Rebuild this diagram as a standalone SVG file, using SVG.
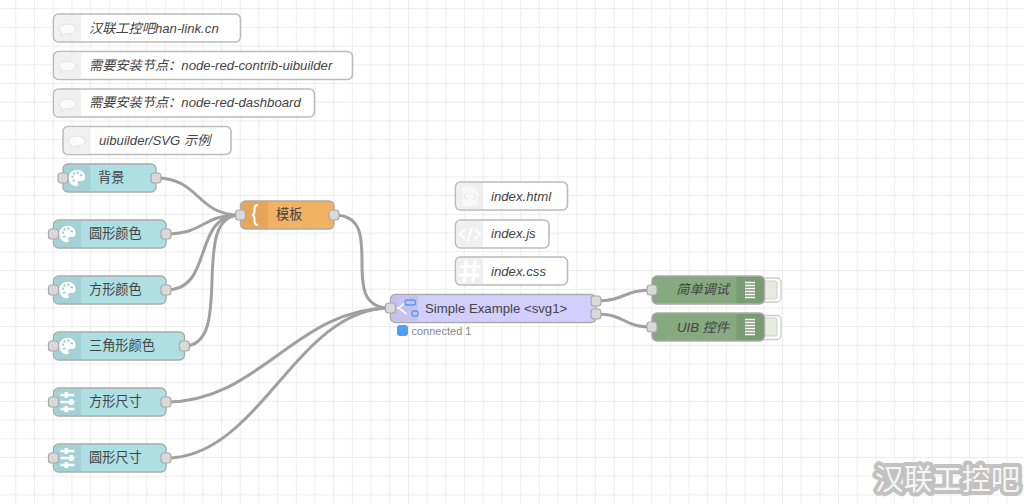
<svg xmlns="http://www.w3.org/2000/svg" width="1024" height="504" viewBox="0 0 1024 504">
<style>
text{font-family:"Liberation Sans","Noto Sans CJK SC",sans-serif;font-size:13.2px;fill:#444}
.it{font-style:italic}
.box{stroke:#aaa;stroke-width:1.4}
.c{fill:#fff;stroke:#bbb;stroke-width:1.6}
.cs{fill:#f0f0f0}
.tn{fill:#addfe3}
.ti{fill:#a3d1d5}
.p{fill:#d9d9d9;stroke:#aaa;stroke-width:1.2}
.w{fill:none;stroke:#a0a0a0;stroke-width:3}
.ic{fill:#fff;stroke:none}
.icl{fill:none;stroke:#fff;stroke-width:2.400}
</style>
<defs>
<pattern id="g" width="18.7" height="18.7" patternUnits="userSpaceOnUse" x="15.3" y="8.2">
<path d="M0 0H18.7M0 0V18.7" fill="none" stroke="#e6e6e6" stroke-width="1.300"/>
</pattern>
<symbol id="bubble" overflow="visible"><g transform="scale(.82)"><path d="M0-6c-6 0-10 2.800-10 6 0 2 1.500 3.600 3.500 4.600-.5 1.600-1.500 2.700-2.500 3.400 2.500 0 4.800-1.200 6.300-2.300.9.200 1.800.3 2.700.3 6 0 10-2.800 10-6s-4-6-10-6z" fill="#fbfbfb" stroke="#e0e0e0" stroke-width="1.200"/></g></symbol>
<symbol id="palette" overflow="visible"><g transform="scale(.82)"><path d="M0-10C-6-10-10-5.500-10 0c0 5.800 4.500 10 9 10 2.500 0 3-1.800 2-3.200C0 5 1.500 3.500 3.500 3.500H6c2.500 0 4-2 4-4.500C10-6 5.500-10 0-10z" class="ic"/><g fill="#a3d1d5"><circle cx="-5.500" cy="-1.500" r="1.500"/><circle cx="-3.500" cy="-5.500" r="1.500"/><circle cx="1" cy="-6.500" r="1.500"/><circle cx="5" cy="-3.500" r="1.500"/><circle cx="-4" cy="3" r="1.500"/></g></g></symbol>
<symbol id="slider" overflow="visible"><path d="M-7-7H7M-7 0H7M-7 7H7" class="icl"/><rect x="-3" y="-10" width="3.500" height="6" class="ic"/><rect x="2" y="-3" width="3.500" height="6" class="ic"/><rect x="-3" y="4" width="3.500" height="6" class="ic"/></symbol>
</defs>
<rect width="1024" height="504" fill="#fff"/>
<rect width="1024" height="504" fill="url(#g)"/>

<g id="connectors">
<path class="w" d="M156 178C200 178 196 215 240 215"/>
<path class="w" d="M166 234C205 234 201 215 240 215"/>
<path class="w" d="M166 290C215 290 191 215 240 215"/>
<path class="w" d="M184 346C236 346 188 215 240 215"/>
<path class="w" d="M334 215C390 215 334 308 390 308"/>
<path class="w" d="M166 402C260 402 296 308 390 308"/>
<path class="w" d="M166 458C260 458 296 308 390 308"/>
<path class="w" d="M596 301C626 301 622 290 652 290"/>
<path class="w" d="M596 314C626 314 622 327 652 327"/>
</g>

<g id="comment1"><rect class="c" x="53.500" y="14" width="187" height="28" rx="5"/><path class="cs" d="M54.500 20a5 5 0 0 1 5-5H81V41H59.500a5 5 0 0 1-5-5z"/><use href="#bubble" x="67.500" y="29"/><text class="it" x="89" y="33">汉联工控吧han-link.cn</text></g>
<g id="comment2"><rect class="c" x="53.500" y="51.500" width="299" height="28" rx="5"/><path class="cs" d="M54.500 57.500a5 5 0 0 1 5-5H81V78.500H59.500a5 5 0 0 1-5-5z"/><use href="#bubble" x="67.500" y="66"/><text class="it" x="89" y="70">需要安装节点：node-red-contrib-uibuilder</text></g>
<g id="comment3"><rect class="c" x="53.500" y="89" width="261" height="28" rx="5"/><path class="cs" d="M54.500 95a5 5 0 0 1 5-5H81V116H59.500a5 5 0 0 1-5-5z"/><use href="#bubble" x="67.500" y="104"/><text class="it" x="89" y="107">需要安装节点：node-red-dashboard</text></g>
<g id="comment4"><rect class="c" x="63" y="126.500" width="168" height="28" rx="5"/><path class="cs" d="M64 132.500a5 5 0 0 1 5-5H90.500V153.500H69a5 5 0 0 1-5-5z"/><use href="#bubble" x="77" y="141"/><text class="it" x="99" y="145">uibuilder/SVG 示例</text></g>

<g id="n-bg"><rect class="tn box" x="63" y="164" width="93" height="28" rx="5"/><path class="ti" d="M64 169a4 4 0 0 1 4-4H90.500V191H68a4 4 0 0 1-4-4z"/><use href="#palette" x="77" y="178"/><rect class="p" x="58" y="173" width="10" height="10" rx="3"/><rect class="p" x="151" y="173" width="10" height="10" rx="3"/><text x="98" y="182">背景</text></g>
<g id="n-circle"><rect class="tn box" x="53.500" y="220" width="112.500" height="28" rx="5"/><path class="ti" d="M54.500 225a4 4 0 0 1 4-4H81V247H58.500a4 4 0 0 1-4-4z"/><use href="#palette" x="67.500" y="234"/><rect class="p" x="48.500" y="229" width="10" height="10" rx="3"/><rect class="p" x="161" y="229" width="10" height="10" rx="3"/><text x="89" y="238">圆形颜色</text></g>
<g id="n-square"><rect class="tn box" x="53.500" y="276" width="112.500" height="28" rx="5"/><path class="ti" d="M54.500 281a4 4 0 0 1 4-4H81V303H58.500a4 4 0 0 1-4-4z"/><use href="#palette" x="67.500" y="290"/><rect class="p" x="48.500" y="285" width="10" height="10" rx="3"/><rect class="p" x="161" y="285" width="10" height="10" rx="3"/><text x="89" y="294">方形颜色</text></g>
<g id="n-triangle"><rect class="tn box" x="53.500" y="332" width="131" height="28" rx="5"/><path class="ti" d="M54.500 337a4 4 0 0 1 4-4H81V359H58.500a4 4 0 0 1-4-4z"/><use href="#palette" x="67.500" y="346"/><rect class="p" x="48.500" y="341" width="10" height="10" rx="3"/><rect class="p" x="179.500" y="341" width="10" height="10" rx="3"/><text x="89" y="350">三角形颜色</text></g>
<g id="n-sqsize"><rect class="tn box" x="53.500" y="388" width="112.500" height="28" rx="5"/><path class="ti" d="M54.500 393a4 4 0 0 1 4-4H81V415H58.500a4 4 0 0 1-4-4z"/><use href="#slider" x="67.500" y="402"/><rect class="p" x="48.500" y="397" width="10" height="10" rx="3"/><rect class="p" x="161" y="397" width="10" height="10" rx="3"/><text x="89" y="406">方形尺寸</text></g>
<g id="n-cirsize"><rect class="tn box" x="53.500" y="444" width="112.500" height="28" rx="5"/><path class="ti" d="M54.500 449a4 4 0 0 1 4-4H81V471H58.500a4 4 0 0 1-4-4z"/><use href="#slider" x="67.500" y="458"/><rect class="p" x="48.500" y="453" width="10" height="10" rx="3"/><rect class="p" x="161" y="453" width="10" height="10" rx="3"/><text x="89" y="462">圆形尺寸</text></g>

<g id="n-template"><rect class="box" fill="#f2b264" x="240.500" y="201" width="93.500" height="28" rx="5"/><path fill="#e5a65c" d="M241.500 206a4 4 0 0 1 4-4H268V228H245.500a4 4 0 0 1-4-4z"/><path d="M258 205c-3 0-3.500 1.500-3.500 3.500v3c0 2-.5 3-2.500 3.500 2 .5 2.500 1.500 2.500 3.500v3c0 2 .5 3.500 3.500 3.500" fill="none" stroke="#fff" stroke-width="2"/><rect class="p" x="235.500" y="210" width="10" height="10" rx="3"/><rect class="p" x="329" y="210" width="10" height="10" rx="3"/><text x="276" y="219">模板</text></g>

<g id="c-html"><rect class="c" x="455.500" y="182" width="112" height="28" rx="5"/><path class="cs" d="M456.500 188a5 5 0 0 1 5-5H483V209H461.500a5 5 0 0 1-5-5z"/><path d="M462 187h11l5 5v14h-16z" fill="#f8f8f8"/><path d="M467 193l-3 3.500 3 3.500M473 193l3 3.500-3 3.500" fill="none" stroke="#ddd" stroke-width="1"/><text class="it" x="491" y="201">index.html</text></g>
<g id="c-js"><rect class="c" x="455.500" y="220" width="93.500" height="28" rx="5"/><path class="cs" d="M456.500 226a5 5 0 0 1 5-5H483V247H461.500a5 5 0 0 1-5-5z"/><path d="M465 229l-5 5 5 5M475 229l5 5-5 5M472 227l-4 14" fill="none" stroke="#fff" stroke-width="1.800"/><text class="it" x="491" y="238">index.js</text></g>
<g id="c-css"><rect class="c" x="455.500" y="257" width="112" height="28" rx="5"/><path class="cs" d="M456.500 263a5 5 0 0 1 5-5H483V284H461.500a5 5 0 0 1-5-5z"/><path d="M466 260l-2 22M475 260l-2 22M460 266.500h20M459 275h20" fill="none" stroke="#fff" stroke-width="3"/><text class="it" x="491" y="276">index.css</text></g>

<g id="n-uib"><rect class="box" fill="#d2cffe" x="390.500" y="294.500" width="205.500" height="28" rx="5"/><path fill="#c5c2ee" d="M391.500 299.500a4 4 0 0 1 4-4H418V321.500H395.500a4 4 0 0 1-4-4z"/><path d="M397 308c5 0 6-6 10-6M397 308c5 0 6 5 10 6" fill="none" stroke="#fff" stroke-width="1.500"/><rect x="405" y="300" width="10.500" height="5" rx="2" fill="#c5c2ee" stroke="#4f9cf5" stroke-width="1.300"/><rect x="412" y="311" width="6" height="5" rx="2" fill="#c5c2ee" stroke="#4f9cf5" stroke-width="1.300"/><rect class="p" x="385.500" y="303" width="10" height="10" rx="3"/><rect class="p" x="591" y="296" width="10" height="10" rx="3"/><rect class="p" x="591" y="309" width="10" height="10" rx="3"/><text x="425" y="313">Simple Example &lt;svg1&gt;</text><rect x="397" y="325" width="11" height="11" rx="3" fill="#4f9ff5"/><text x="411.500" y="335" style="font-size:11px;fill:#888">connected 1</text></g>

<g id="n-debug1"><path d="M762 278h15a4 4 0 0 1 4 4v16a4 4 0 0 1-4 4h-15z" fill="#fff" stroke="#ccc" stroke-width="1.300"/><rect x="764" y="281" width="13" height="18" rx="2" fill="#e6ede0" stroke="#ccc"/><rect class="box" fill="#87a980" x="652" y="276" width="112.500" height="28" rx="5"/><path fill="#7b9b75" d="M736.500 277H759.500a4 4 0 0 1 4 4V299a4 4 0 0 1-4 4H736.500z"/><path d="M745 282.500h10M745 285.500h10M745 288.500h10M745 291.500h10M745 294.500h10M745 297.500h10" stroke="#fff" stroke-width="1.300"/><rect class="p" x="647" y="285" width="10" height="10" rx="3"/><text class="it" x="729" y="294" text-anchor="end">简单调试</text></g>
<g id="n-debug2"><path d="M762 315.500h15a4 4 0 0 1 4 4v16a4 4 0 0 1-4 4h-15z" fill="#fff" stroke="#ccc" stroke-width="1.300"/><rect x="764" y="318" width="13" height="18" rx="2" fill="#e6ede0" stroke="#ccc"/><rect class="box" fill="#87a980" x="652" y="313" width="112.500" height="28" rx="5"/><path fill="#7b9b75" d="M736.500 314H759.500a4 4 0 0 1 4 4V336a4 4 0 0 1-4 4H736.500z"/><path d="M745 319.500h10M745 322.500h10M745 325.500h10M745 328.500h10M745 331.500h10M745 334.500h10" stroke="#fff" stroke-width="1.300"/><rect class="p" x="647" y="322" width="10" height="10" rx="3"/><text class="it" x="729" y="332" text-anchor="end">UIB 控件</text></g>

<text x="875" y="490" textLength="145" style="font-size:29px;fill:#f6f6f6;stroke:#c2c2c2;stroke-width:8px;paint-order:stroke;stroke-linejoin:round">汉联工控吧</text>
</svg>
